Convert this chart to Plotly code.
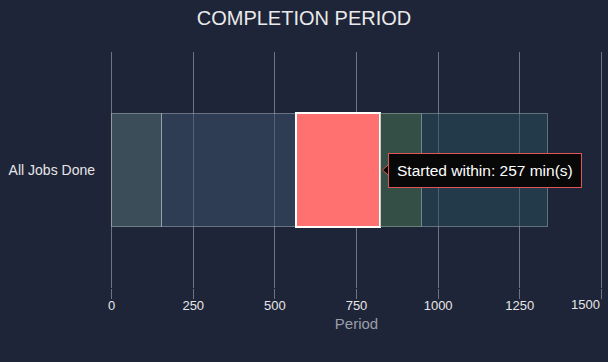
import plotly.graph_objects as go

category = "All Jobs Done"
segment_names = ["Seg 1", "Seg 2", "Started within", "Seg 4", "Seg 5"]
segment_values = [154, 412, 257, 126, 386]
segment_colors = ["rgba(85,117,122,0.5)", "rgba(61,83,112,0.5)", "#ff7070",
                  "rgba(73,121,84,0.5)", "rgba(39,79,94,0.5)"]
highlight_index = 2
tick_values = [0, 250, 500, 750, 1000, 1250, 1500]
tick_labels = ["0", "250", "500", "750", "1000", "1250", "1500"]
tooltip_text = "Started within: 257 min(s)"

BG = "#1f2538"
GRID = "rgba(255,255,255,0.36)"
TICKFONT = dict(family="Liberation Sans, Arial", size=13, color="#e6e6e6")

fig = go.Figure()
for i, (name, val, col) in enumerate(zip(segment_names, segment_values, segment_colors)):
    hl = i == highlight_index
    fig.add_trace(go.Bar(
        x=[val], y=[0], orientation="h", name=name,
        marker=dict(color=col,
                    line=dict(color="#ffffff" if hl else "rgba(255,255,255,0.28)",
                              width=2 if hl else 1)),
        width=0.48, showlegend=False, hoverinfo="skip",
    ))

hl_end = sum(segment_values[:highlight_index + 1])

# static tooltip for the highlighted segment
fig.add_annotation(
    x=hl_end, y=0, xref="x", yref="y", xanchor="left", yanchor="middle",
    xshift=8, showarrow=False, text=tooltip_text,
    font=dict(family="Liberation Sans, Arial", size=15.5, color="#ffffff"),
    bgcolor="#080808", bordercolor="#e05656", borderwidth=1, borderpad=8,
)
fig.add_shape(
    type="path", xref="x", yref="y", xsizemode="pixel", ysizemode="pixel",
    xanchor=hl_end, yanchor=0,
    path="M 9,-6 L 2,0 L 9,6 Z",
    fillcolor="#080808", line=dict(color="#e05656", width=1), layer="above",
)
fig.add_shape(
    type="path", xref="x", yref="y", xsizemode="pixel", ysizemode="pixel",
    xanchor=hl_end, yanchor=0,
    path="M 9.5,-5.3 L 11,-5.3 L 11,5.3 L 9.5,5.3 Z",
    fillcolor="#080808", line=dict(width=0), layer="above",
)

# last tick label is right-aligned to its tick so it stays inside the chart
fig.add_annotation(
    x=tick_values[-1], xref="x", y=0, yref="paper", yanchor="top", xanchor="right",
    yshift=-7, xshift=1, showarrow=False, text=tick_labels[-1], font=TICKFONT,
)

fig.update_layout(
    barmode="stack",
    width=608, height=362,
    paper_bgcolor=BG, plot_bgcolor=BG,
    margin=dict(l=109, r=4, t=52, b=74),
    font=dict(family="Liberation Sans, Arial", color="#e6e6e6", size=13),
    title=dict(text="COMPLETION PERIOD", x=0.5, xanchor="center",
               y=1 - 18 / 362, yanchor="middle", yref="container",
               font=dict(size=20, color="#eaeaea")),
    xaxis=dict(range=[-8, 1508], tickvals=tick_values,
               ticktext=tick_labels[:-1] + [""],
               showgrid=True,
               gridcolor=GRID, gridwidth=1, zeroline=False, showline=False,
               ticks="outside", ticklen=10, tickcolor=GRID,
               ticklabelstandoff=-5,
               tickfont=TICKFONT,
               title=dict(text="Period", font=dict(size=15, color="#9a9ea8"),
                          standoff=6)),
    yaxis=dict(range=[-0.5, 0.5], tickvals=[0], ticktext=[category],
               showgrid=False, zeroline=False, showline=False,
               ticklabelstandoff=13, tickfont=dict(size=14, color="#e6e6e6")),
    hovermode=False,
)

fig.write_html("out.html", config={"displayModeBar": False},
               post_script="document.body.style.margin='0';document.body.style.background='#1f2538';")
